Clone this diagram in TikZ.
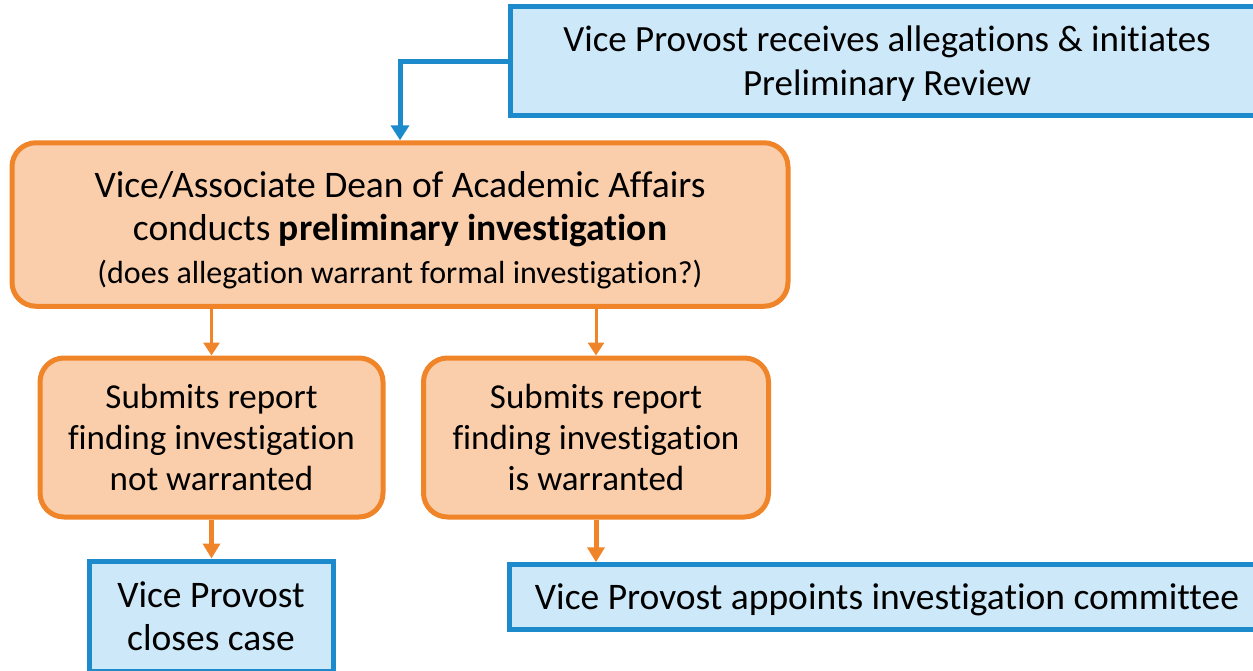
\documentclass[tikz,border=0pt]{standalone}
\usepackage{fontspec}
\setmainfont[Ligatures=NoCommon]{Carlito}
\usetikzlibrary{arrows.meta}
\definecolor{bblue}{RGB}{28,138,203}
\definecolor{fblue}{RGB}{205,232,248}
\definecolor{borange}{RGB}{240,132,40}
\definecolor{forange}{RGB}{250,206,170}
\tikzset{
  bluebox/.style={draw=bblue, fill=fblue, line width=5pt, inner sep=0pt, align=center, text=black},
  orangebox/.style={draw=borange, fill=forange, line width=5pt, rounded corners=24pt, inner sep=0pt, align=center, text=black},
  boxtext/.style={align=center, inner sep=0pt, text=black},
  bluearrow/.style={draw=bblue, line width=5pt, -{Triangle[width=18pt,length=15pt]}},
  thinarrow/.style={draw=borange, line width=3pt, -{Triangle[width=16pt,length=13pt]}},
  thickarrow/.style={draw=borange, line width=5pt, -{Triangle[width=17pt,length=15pt]}}
}
\begin{document}
\begin{tikzpicture}[x=1pt,y=-1pt]
\useasboundingbox (0,0) rectangle (1253,670);
\clip (0,0) rectangle (1253,670);
\node[bluebox, minimum width=754pt, minimum height=109pt,
  label={[boxtext, yshift=-3pt, font=\fontsize{37}{44}\selectfont]center:{Vice Provost receives allegations \& initiates\\Preliminary Review}}] (top) at (887,61) {};
\node[orangebox, minimum width=776pt, minimum height=163.5pt,
  label={[boxtext, yshift=-6pt, font=\fontsize{37.5}{43}\selectfont]center:{Vice/Associate Dean of Academic Affairs\\conducts \textbf{preliminary investigation}\\{\fontsize{32}{43}\selectfont (does allegation warrant formal investigation?)}}}] (big) at (400,224.5) {};
\node[orangebox, minimum width=343pt, minimum height=159pt, font=\fontsize{35}{41}\selectfont] (no) at (211.5,437.5)
  {Submits report\\finding investigation\\not warranted};
\node[orangebox, minimum width=345pt, minimum height=159pt, font=\fontsize{35}{41}\selectfont] (yes) at (596,437.5)
  {Submits report\\finding investigation\\is warranted};
\node[bluebox, minimum width=244pt, minimum height=110pt, font=\fontsize{37.5}{43}\selectfont] (close) at (211,616)
  {Vice Provost\\closes case};
\node[bluebox, minimum width=755pt, minimum height=64.5pt,
  label={[boxtext, yshift=-3pt, font=\fontsize{37.5}{43}\selectfont]center:{Vice Provost appoints investigation committee}}] (appoint) at (887,597) {};
\draw[bluearrow] (top.west) -| (big.north);
\draw[thinarrow] (big.south -| no.north) -- (no.north);
\draw[thinarrow] (big.south -| yes.north) -- (yes.north);
\draw[thickarrow] (no.south) -- (no.south |- close.north);
\draw[thickarrow] (yes.south) -- (yes.south |- appoint.north);
\end{tikzpicture}
\end{document}
